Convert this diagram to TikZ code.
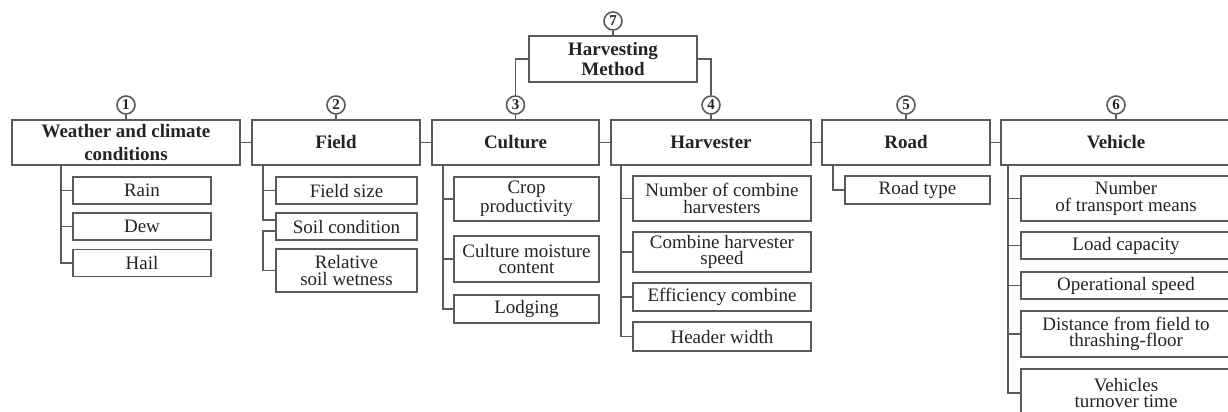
\documentclass[tikz,border=0pt]{standalone}
\usepackage{fontspec}
\setmainfont{Liberation Serif}
\definecolor{linegray}{RGB}{90,90,90}
\definecolor{txtgray}{RGB}{35,35,35}

\begin{document}
\begin{tikzpicture}[
    x=0.5pt, y=-0.5pt,
    % styles for boxes, numbers and lines
    mybox/.style={rectangle, draw=linegray, line width=0.9pt, inner sep=0pt, align=center, text=txtgray, font=\fontsize{9.5}{11.5}\selectfont\bfseries},
    mysub/.style={rectangle, draw=linegray, line width=0.9pt, inner sep=0pt, align=center, text=txtgray, font=\fontsize{9.5}{8.2}\selectfont, minimum width=#1},
    mynum/.style={circle, draw=linegray, line width=0.8pt, inner sep=0pt, minimum size=9pt, text=txtgray, font=\fontsize{7.5}{7.5}\selectfont\bfseries},
    myline/.style={draw=linegray, line width=0.9pt}
]
    \clip (0,0) rectangle (1228,412);

    % harvesting method on top
    \node [mynum] (n7) at (613,21) {7};
    \node [mybox, minimum width=84pt, minimum height=23pt, font=\fontsize{9.5}{8}\selectfont\bfseries] (hm) at (613,59) {Harvesting\\Method};

    % main groups
    \node [mybox, minimum width=114pt, minimum height=22.5pt] (wea) at (126,142.5) {Weather and climate\\conditions};
    \node [mybox, minimum width=84pt, minimum height=22.5pt] (fld) at (336,142.5) {Field};
    \node [mybox, minimum width=83.5pt, minimum height=22.5pt] (cul) at (515.5,142.5) {Culture};
    \node [mybox, minimum width=100pt, minimum height=22.5pt] (har) at (711,142.5) {Harvester};
    \node [mybox, minimum width=84pt, minimum height=22.5pt] (rod) at (906,142.5) {Road};
    \node [mybox, minimum width=115pt, minimum height=22.5pt] (veh) at (1116,142.5) {Vehicle};

    \node [mynum] (n1) at (126,105) {1};
    \node [mynum] (n2) at (336,105) {2};
    \node [mynum] (n3) at (515.5,105) {3};
    \node [mynum] (n4) at (711,105) {4};
    \node [mynum] (n5) at (906,105) {5};
    \node [mynum] (n6) at (1116,105) {6};

    % weather items
    \node [mysub=69pt, minimum height=13.5pt] (rain) at (142,190.5) {Rain};
    \node [mysub=69pt, minimum height=13.5pt] (dew) at (142,226.5) {Dew};
    \node [mysub=69pt, minimum height=13.5pt] (hail) at (142,263) {Hail};

    % field items
    \node [mysub=70.5pt, minimum height=13.5pt] (fsz) at (346.5,190.5) {Field size};
    \node [mysub=70.5pt, minimum height=13.5pt] (soil) at (346.5,226.5) {Soil condition};
    \node [mysub=70.5pt, minimum height=21.5pt] (rel) at (346.5,270.5) {Relative\\soil wetness};

    % culture items
    \node [mysub=72.5pt, minimum height=22pt] (crop) at (526.5,199) {Crop\\productivity};
    \node [mysub=72.5pt, minimum height=23pt] (cmc) at (526.5,259) {Culture moisture\\content};
    \node [mysub=72.5pt, minimum height=14pt] (lod) at (526.5,309) {Lodging};

    % harvester items
    \node [mysub=89pt, minimum height=22.5pt] (nch) at (722,198.5) {Number of combine\\harvesters};
    \node [mysub=89pt, minimum height=20pt] (chs) at (722,252) {Combine harvester\\speed};
    \node [mysub=89pt, minimum height=14pt] (eff) at (722,297) {Efficiency combine};
    \node [mysub=89pt, minimum height=14.5pt] (hwd) at (722,336.5) {Header width};

    % road items
    \node [mysub=72.5pt, minimum height=14pt] (rty) at (917.5,190) {Road type};

    % vehicle items
    \node [mysub=105pt, minimum height=22.5pt] (ntm) at (1126,198.5) {Number\\of transport means};
    \node [mysub=105pt, minimum height=13.5pt] (lcap) at (1126,245.5) {Load capacity};
    \node [mysub=105pt, minimum height=13.5pt] (ops) at (1126,285.5) {Operational speed};
    \node [mysub=105pt, minimum height=23pt] (dist) at (1126,334) {Distance from field to\\thrashing-floor};
    \node [mysub=105pt, minimum height=24pt] (vtt) at (1126,393) {Vehicles\\turnover time};

    % top connectors
    \draw [myline] (n7) -- (hm);
    \draw [myline] (hm.west) -| (n3);
    \draw [myline] (hm.east) -| (n4);
    \foreach \i/\j in {1/wea, 2/fld, 3/cul, 4/har, 5/rod, 6/veh}
        \draw [myline] (n\i) -- (\j);
    \foreach \a/\b in {wea/fld, fld/cul, cul/har, har/rod, rod/veh}
        \draw [myline] (\a) -- (\b);

    % trunks
    \coordinate (t1) at (61,0);
    \coordinate (t2) at (263,0);
    \coordinate (t3) at (443,0);
    \coordinate (t4) at (621,0);
    \coordinate (t5) at (833,0);
    \coordinate (t6) at (1008,0);

    \draw [myline] (wea.south -| t1) |- (hail.west);
    \foreach \s in {rain, dew}
        \draw [myline] (\s.west) -- (\s.west -| t1);

    \draw [myline] (fld.south -| t2) |- ([yshift=3.25pt]soil.west);
    \draw [myline] ([yshift=-2.25pt]soil.west) -| (rel.west -| t2) -- (rel.west);
    \draw [myline] (fsz.west) -- (fsz.west -| t2);

    \draw [myline] (cul.south -| t3) |- (lod.west);
    \foreach \s in {crop, cmc}
        \draw [myline] (\s.west) -- (\s.west -| t3);

    \draw [myline] (har.south -| t4) |- (hwd.west);
    \foreach \s in {nch, chs, eff}
        \draw [myline] (\s.west) -- (\s.west -| t4);

    \draw [myline] (rod.south -| t5) |- (rty.west);

    \draw [myline] (veh.south -| t6) |- (vtt.west);
    \foreach \s in {ntm, lcap, ops, dist}
        \draw [myline] (\s.west) -- (\s.west -| t6);
\end{tikzpicture}
\end{document}
